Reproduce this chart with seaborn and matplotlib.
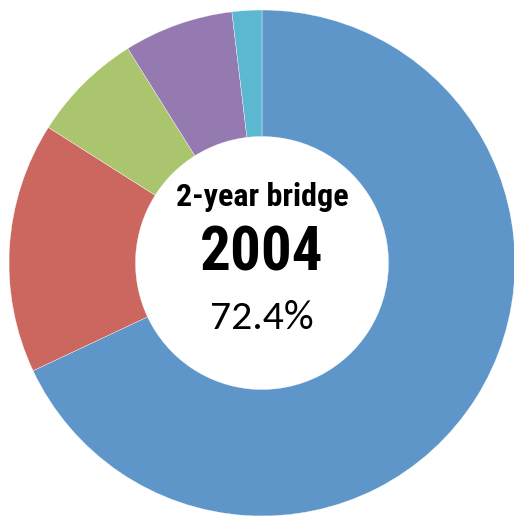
import matplotlib
matplotlib.use("Agg")
import matplotlib.pyplot as plt
import seaborn as sns

categories = ["Segment A", "Segment B", "Segment C", "Segment D", "Segment E"]
values = [68.0, 16.0, 7.1, 7.0, 1.9]
colors = ["#5e96c9", "#cb675f", "#abc46e", "#957ab1", "#5bb8d0"]
title_text = "2-year bridge"
year_text = "2004"
pct_text = "72.4%"

sns.set_theme(style="white")

fig = plt.figure(figsize=(5.14, 5.16), dpi=100)
ax = fig.add_axes([0, 0, 1, 1])
ax.pie(values, colors=colors, startangle=90, counterclock=False, radius=1.0,
       wedgeprops=dict(width=0.5, edgecolor="white", linewidth=0.25))
ax.set_xlim(-262 / 253, 252 / 253)
ax.set_ylim(-253 / 253, 263 / 253)
ax.set_aspect("equal")
ax.axis("off")

def ypos(px):
    return (263 - px) / 253

cond = ["Roboto Condensed", "Archivo Narrow", "DejaVu Sans"]
ax.text(0.0, ypos(197), title_text, ha="center", va="center", fontsize=23,
        fontweight="bold", family=cond, color="black")
ax.text(0.0, ypos(254), year_text, ha="center", va="center", fontsize=44,
        fontweight="bold", family=cond, color="black")
ax.text(0.0, ypos(318), pct_text, ha="center", va="center", fontsize=30,
        family=["Carlito", "DejaVu Sans"], color="black")

fig.savefig("out.png", dpi=100)
